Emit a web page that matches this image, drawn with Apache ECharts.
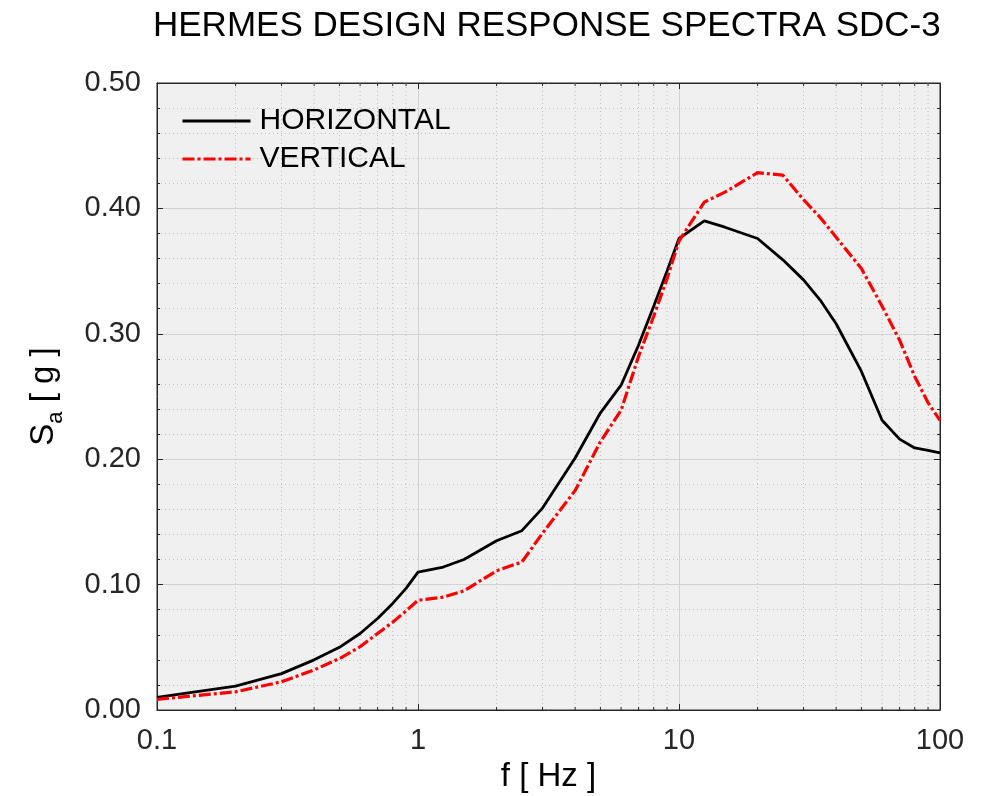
<!DOCTYPE html>
<html>
<head>
<meta charset="utf-8">
<script src="https://cdn.jsdelivr.net/npm/echarts@6/dist/echarts.min.js"></script>
<style>
  html, body { margin: 0; padding: 0; background: #ffffff; }
  #chart { width: 990px; height: 796px; }
</style>
</head>
<body>
<div id="chart"></div>
<script>
// ---- data ----
const frequencies = [0.1, 0.2, 0.3, 0.4, 0.5, 0.6, 0.7, 0.8, 0.9, 1, 1.25, 1.5, 2, 2.5, 3, 4, 5, 6, 7, 8, 9, 10,
  12.5, 15, 20, 25, 30, 35, 40, 50, 60, 70, 80, 90, 100];
const horizontal = [0.010, 0.019, 0.029, 0.040, 0.050, 0.061, 0.073, 0.085, 0.097, 0.110, 0.114, 0.120, 0.135, 0.143,
  0.161, 0.201, 0.237, 0.259, 0.291, 0.322, 0.350, 0.376, 0.390, 0.385, 0.376, 0.359, 0.343, 0.326, 0.308, 0.270,
  0.231, 0.216, 0.209, 0.207, 0.205];
const vertical = [0.0085, 0.0145, 0.0225, 0.032, 0.041, 0.0505, 0.061, 0.070, 0.079, 0.0875, 0.090, 0.095, 0.111,
  0.118, 0.141, 0.175, 0.214, 0.239, 0.282, 0.314, 0.344, 0.374, 0.405, 0.413, 0.4285, 0.4265, 0.407, 0.392, 0.377,
  0.352, 0.322, 0.295, 0.266, 0.245, 0.231];
const seriesNames = ['HORIZONTAL', 'VERTICAL'];
const xTickValues = [0.1, 1, 10, 100];
const xTickLabels = ['0.1', '1', '10', '100'];
const xMinorTicks = [0.2, 0.3, 0.4, 0.5, 0.6, 0.7, 0.8, 0.9, 2, 3, 4, 5, 6, 7, 8, 9, 20, 30, 40, 50, 60, 70, 80, 90];
const yTickLabelDigits = 2;
const titleText = 'HERMES DESIGN RESPONSE SPECTRA SDC-3';
const xName = 'f [ Hz ]';

// ---- chart ----
const FONT = 'Liberation Sans, Arial, Helvetica, sans-serif';
const AXIS_COLOR = '#262626';
const GRID_COLOR = '#d2d2d2';
const MINOR_GRID_COLOR = '#bdbdbd';

function xLabel(v) {
  let best = 0, bd = Infinity;
  xTickValues.forEach((t, i) => {
    const d = Math.abs(Math.log10(v) - Math.log10(t));
    if (d < bd) { bd = d; best = i; }
  });
  return bd < 1e-6 ? xTickLabels[best] : '';
}

const chart = echarts.init(document.getElementById('chart'), null, { renderer: 'canvas' });

const logAxisBase = {
  type: 'log', logBase: 10, min: 0.1, max: 100,
  axisLine: { show: true, onZero: false, lineStyle: { color: AXIS_COLOR, width: 1 } },
  axisTick: { show: true, inside: true, length: 6, lineStyle: { color: AXIS_COLOR } },
  minorTick: { show: false },
  minorSplitLine: { show: false }
};
const valAxisBase = {
  type: 'value', min: 0, max: 0.5, interval: 0.1,
  axisLine: { show: true, onZero: false, lineStyle: { color: AXIS_COLOR, width: 1 } },
  axisTick: { show: true, inside: true, length: 6, lineStyle: { color: AXIS_COLOR } },
  minorTick: { show: true, splitNumber: 5, length: 3, lineStyle: { color: AXIS_COLOR } }
};

const option = {
  backgroundColor: '#ffffff',
  animation: false,
  textStyle: { fontFamily: FONT },
  title: {
    text: titleText,
    left: 148, top: 4,
    textStyle: { fontFamily: FONT, fontSize: 35, fontWeight: 'normal', color: '#000000' }
  },
  legend: {
    data: seriesNames,
    orient: 'vertical',
    left: 181, top: 106,
    itemWidth: 68, itemHeight: 14, itemGap: 8,
    padding: 0,
    itemStyle: { opacity: 0, borderWidth: 0 },
    lineStyle: { width: 3 },
    textStyle: { fontFamily: FONT, fontSize: 30, color: '#000000', padding: [0, 0, 0, 4], lineHeight: 28 }
  },
  grid: {
    left: 157, right: 50, top: 83, bottom: 86,
    show: true, backgroundColor: '#f0f0f0', borderColor: AXIS_COLOR, borderWidth: 1,
    containLabel: false,
    outerBoundsMode: 'none'
  },
  xAxis: [
    Object.assign({}, logAxisBase, {
      position: 'bottom',
      name: xName, nameLocation: 'middle', nameGap: 50,
      nameTextStyle: { fontFamily: FONT, fontSize: 33, color: '#000000' },
      axisLabel: { show: true, margin: 16, fontSize: 29, color: AXIS_COLOR, fontFamily: FONT, formatter: xLabel, showMinLabel: true, showMaxLabel: true },
      splitLine: { show: true, lineStyle: { color: GRID_COLOR, width: 1 } }
    }),
    Object.assign({}, logAxisBase, {
      position: 'top',
      axisLabel: { show: false },
      splitLine: { show: false }
    })
  ],
  yAxis: [
    Object.assign({}, valAxisBase, {
      position: 'left',
      name: '{s|S}{sub|a}{g| [ g ]}', nameLocation: 'middle', nameGap: 90, nameRotate: 90,
      nameTextStyle: {
        fontFamily: FONT, color: '#000000',
        rich: {
          s: { fontSize: 33, fontFamily: FONT, color: '#000000', lineHeight: 46, verticalAlign: 'middle' },
          sub: { fontSize: 22, fontFamily: FONT, color: '#000000', lineHeight: 22, verticalAlign: 'bottom' },
          g: { fontSize: 33, fontFamily: FONT, color: '#000000', lineHeight: 46, verticalAlign: 'middle' }
        }
      },
      axisLabel: { show: true, margin: 16, fontSize: 29, color: AXIS_COLOR, fontFamily: FONT,
        formatter: v => v.toFixed(yTickLabelDigits) },
      splitLine: { show: true, lineStyle: { color: GRID_COLOR, width: 1 } },
      minorSplitLine: { show: true, lineStyle: { color: MINOR_GRID_COLOR, width: 1, type: [1, 3] } }
    }),
    Object.assign({}, valAxisBase, {
      position: 'right',
      axisLabel: { show: false },
      splitLine: { show: false },
      minorSplitLine: { show: false }
    })
  ],
  series: [
    {
      name: 'minorX', type: 'custom', xAxisIndex: 0, yAxisIndex: 0, silent: true, z: 1,
      legendHoverLink: false,
      data: xMinorTicks.map(v => [v, 0]),
      encode: { x: 0, y: 1 },
      renderItem: function (params, api) {
        const x = api.coord([api.value(0), 0])[0];
        const cs = params.coordSys;
        const top = cs.y, bottom = cs.y + cs.height;
        return {
          type: 'group',
          children: [
            { type: 'line', shape: { x1: x, y1: top, x2: x, y2: bottom },
              style: { stroke: MINOR_GRID_COLOR, lineWidth: 1, lineDash: [1, 3] } },
            { type: 'line', shape: { x1: x, y1: bottom, x2: x, y2: bottom - 3 },
              style: { stroke: AXIS_COLOR, lineWidth: 1 } },
            { type: 'line', shape: { x1: x, y1: top, x2: x, y2: top + 3 },
              style: { stroke: AXIS_COLOR, lineWidth: 1 } }
          ]
        };
      }
    },
    {
      name: seriesNames[0], type: 'line', xAxisIndex: 0, yAxisIndex: 0, z: 5,
      symbol: 'none', showSymbol: false,
      data: frequencies.map((f, i) => [f, horizontal[i]]),
      lineStyle: { color: '#000000', width: 2.8 },
      itemStyle: { color: '#000000' }
    },
    {
      name: seriesNames[1], type: 'line', xAxisIndex: 0, yAxisIndex: 0, z: 6,
      symbol: 'none', showSymbol: false,
      data: frequencies.map((f, i) => [f, vertical[i]]),
      lineStyle: { color: '#ff0000', width: 3.2, type: [12, 3, 3, 3] },
      itemStyle: { color: '#ff0000' }
    }
  ]
};
chart.setOption(option);
</script>
</body>
</html>
